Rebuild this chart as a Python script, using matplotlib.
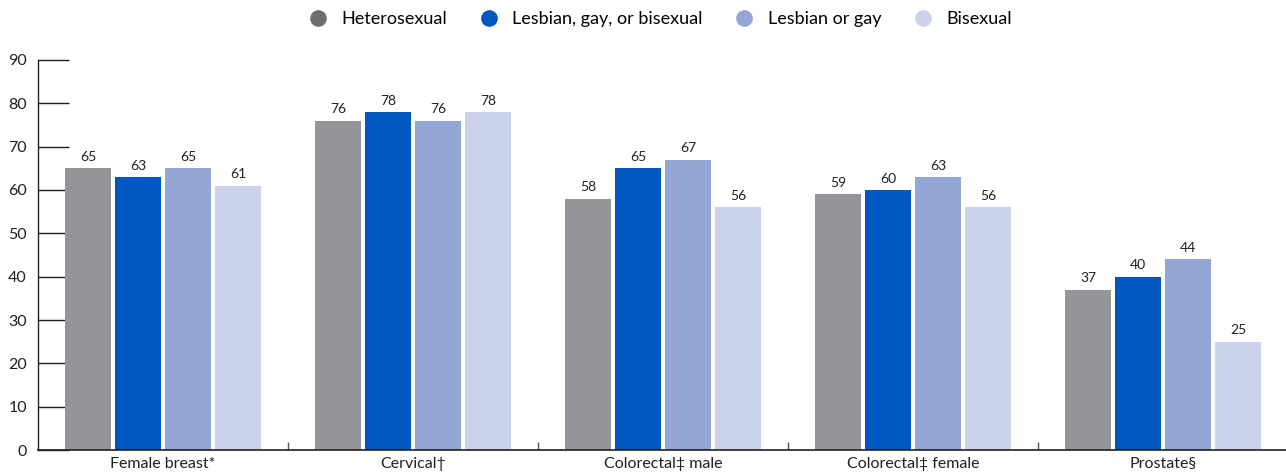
import numpy as np
import matplotlib.pyplot as plt
from matplotlib.lines import Line2D

plt.rcParams['font.family'] = ['Lato', 'DejaVu Sans']

categories = ['Female breast*', 'Cervical\u2020', 'Colorectal\u2021 male',
              'Colorectal\u2021 female', 'Prostate\u00a7']
series = ['Heterosexual', 'Lesbian, gay, or bisexual', 'Lesbian or gay', 'Bisexual']
heterosexual = [65, 76, 58, 59, 37]
lgb = [63, 78, 65, 60, 40]
lesbian_gay = [65, 76, 67, 63, 44]
bisexual = [61, 78, 56, 56, 25]
yticks = [0, 10, 20, 30, 40, 50, 60, 70, 80, 90]

values = [heterosexual, lgb, lesbian_gay, bisexual]
colors = ['#939598', '#0057c0', '#93a6d6', '#cbd3ec']
legend_colors = ['#6d6e71', '#0057c0', '#93a6d6', '#cbd3ec']

fig = plt.figure(figsize=(12.86, 4.76), dpi=100)
ax = fig.add_axes([38/1286, 26/476, 1248/1286, 390/476])

x = np.arange(len(categories))
offsets = [-0.3, -0.1, 0.1, 0.3]
for vals, col, off in zip(values, colors, offsets):
    bars = ax.bar(x + off, vals, width=0.184, color=col, zorder=2)
    for b, v in zip(bars, vals):
        ax.text(b.get_x() + b.get_width()/2, v + 1.2, str(v), ha='center', va='bottom',
                fontsize=10, color='#231f20')

ax.set_xlim(-0.5, 4.492)
ax.set_ylim(0, 90)
ax.set_yticks(yticks)
ax.set_yticklabels([str(t) for t in yticks], fontsize=11.5, color='#231f20')
ax.tick_params(axis='y', direction='in', length=22, width=1, color='#231f20', pad=8)
ax.set_xticks(x)
ax.set_xticklabels(categories, fontsize=11.5, color='#231f20')
ax.tick_params(axis='x', length=0, pad=5)
ax.set_xticks(np.arange(0.5, 4.5, 1), minor=True)
ax.tick_params(axis='x', which='minor', direction='in', length=6, width=1, color='#555555')

for s in ['top', 'right']:
    ax.spines[s].set_visible(False)
ax.spines['left'].set_color('#231f20')
ax.spines['bottom'].set_color('#231f20')
ax.spines['left'].set_linewidth(1)
ax.spines['bottom'].set_linewidth(1.2)

handles = [Line2D([], [], marker='o', linestyle='', markersize=12, color=c,
                  markeredgewidth=0) for c in legend_colors]
fig.legend(handles, series, loc='center', bbox_to_anchor=(656/1286, 1 - 19/476),
           ncol=4, frameon=False, fontsize=13, handletextpad=0.3, columnspacing=1.3)

fig.savefig('out.png', dpi=100)
